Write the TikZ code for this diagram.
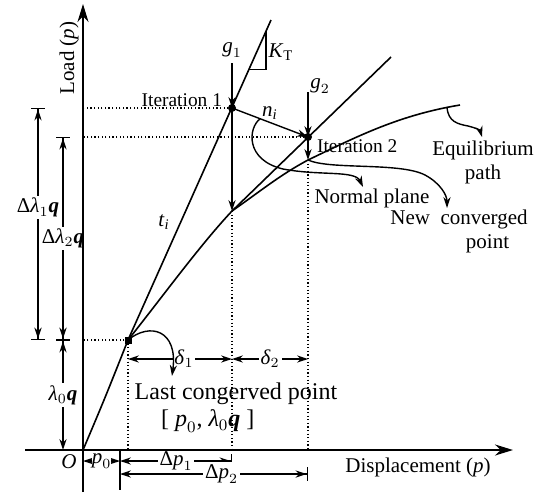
\documentclass[tikz,border=0pt]{standalone}
\usepackage{amsmath}
\usepackage{fontspec}
\setmainfont{Liberation Serif}
\usetikzlibrary{arrows.meta,positioning,calc}
\newcommand{\mv}[1]{\text{\textit{#1}}}
\newcommand{\bq}{\text{\textbf{\textit{q}}}}

\begin{document}
\begin{tikzpicture}[x=0.5pt,y=-0.5pt,font=\fontsize{10.5}{12}\selectfont,
    axisline/.style={line width=1pt,-{Stealth[length=9pt,width=5.5pt]}},
    pathline/.style={line width=0.8pt},
    guide/.style={line width=0.6pt,dash pattern=on 0.6pt off 1.2pt},
    arr/.style={line width=0.7pt,-{Stealth[length=5.5pt,width=3.6pt]}},
    dimline/.style={line width=0.7pt,{Stealth[length=5.5pt,width=3.6pt]}-{Stealth[length=5.5pt,width=3.6pt]}},
    dimbar/.style={line width=0.7pt,{Bar[width=7pt]Stealth[length=5.5pt,width=3.6pt]}-{Stealth[length=5.5pt,width=3.6pt]Bar[width=7pt]}},
    lbl/.style={fill=white,inner sep=1pt}]
  \useasboundingbox (0,0) rectangle (539,494);
  \coordinate (O) at (83,450);
  \coordinate (P0) at (128,340);
  \coordinate (I1) at (232,108);
  \coordinate (A1) at (232,211);
  \coordinate (I2) at (308,137);
  \coordinate (P2) at (308,160);
  \coordinate (E) at (460,105);
  \coordinate (T1) at (271,20);
  \coordinate (T2) at (391,57);
  \coordinate (B0) at (120,450);
  \coordinate (L1) at (38,0);
  \coordinate (L2) at (63,0);
  \coordinate (h1) at (0,461);
  \coordinate (h2) at (0,474);
  \coordinate (h3) at (0,359);

  \draw[guide] (I1) -- (I1 -| O);
  \draw[guide] (I2) -- (I2 -| O);
  \draw[guide] (P0) -- (P0 -| O);
  \draw[guide] (P0) -- (P0 |- O);
  \draw[guide] (A1) -- (A1 |- O);
  \draw[guide] (P2) -- (P2 |- O);

  \draw[pathline] (O) .. controls (105,398) .. (P0) .. controls (160,300) and (200,245) .. (A1)
    .. controls (262,190) and (280,175) .. (P2) .. controls (360,135) and (400,115) .. (E);
  \draw[pathline] (P0) -- (T1);
  \draw[pathline] (A1) -- (T2);
  \coordinate (k1) at ($(P0)!0.846!(T1)$);
  \coordinate (k2) at ($(P0)!0.965!(T1)$);
  \draw[line width=0.6pt] (k1) -| (k2);
  \node (kt) at (281,52) {$\mv{K}_{\mathrm{T}}$};
  \node (ti) at (164,222) {$\mv{t}_{\mv{i}}$};

  \coordinate (g1s) at (232,63);
  \coordinate (g2s) at (308,92);
  \draw[arr] (g1s) -- (I1);
  \draw[arr] (g2s) -- (I2);
  \node[above=-1pt of g1s] (g1) {$\mv{g}_1$};
  \node (g2) at (320,86) {$\mv{g}_2$};
  \draw[arr] (I1) -- (A1);
  \draw[arr] (I1) -- (I2);
  \draw[arr] (I2) -- (P2);
  \node (ni) at (270,113) {$\mv{n}_{\mv{i}}$};
  \fill (I1) circle[radius=2pt];
  \fill (I2) circle[radius=2pt];
  \fill ($(P0)+(-3.5,-3.5)$) rectangle ($(P0)+(3.5,3.5)$);

  \node[anchor=east,font=\fontsize{9.7}{11}\selectfont] (it1) at (229,100) {Iteration 1};
  \node[anchor=west,font=\fontsize{9.7}{11}\selectfont] (it2) at (310,146) {Iteration 2};

  \coordinate (np) at ($(I1)!0.37!(I2)$);
  \draw[arr] (np) .. controls (248,128) and (245,160) .. (283,169) .. controls (320,176) and (355,170) .. (363,187);
  \node (normal) at (372,198) {Normal plane};
  \draw[arr] (P2) .. controls (330,170) and (400,162) .. (425,175) .. controls (440,183) and (447,195) .. (447,208);
  \node[align=left] (newpt) at (459,231) {New\ \ converged\\\hspace*{3.6em}point};
  \coordinate (ep) at (447,107);
  \draw[arr] (ep) .. controls (448,122) and (458,124) .. (468,126) .. controls (476,128) and (480,130) .. (482,137);
  \node[align=center] (eqp) at (483,162) {Equilibrium\\path};
  \node[align=left,font=\fontsize{12}{13.5}\selectfont] (last) at (236,408) {Last congerved point\\\hspace*{1.1em}[ $\mv{p}_0$, $\mv{λ}_0\bq$ ]};

  \draw[{Bar[width=7pt]Stealth[length=5.5pt,width=3.6pt]}-{Stealth[length=5.5pt,width=3.6pt]Bar[width=7pt]},line width=0.7pt] (L2 |- I2) -- node[lbl] {$\text{Δ}\mv{λ}_2\bq$} (L2 |- P0);
  \draw[{Bar[width=7pt]Stealth[length=5.5pt,width=3.6pt]}-{Stealth[length=5.5pt,width=3.6pt]},line width=0.7pt] (L2 |- P0) -- node[lbl] {$\mv{λ}_0\bq$} (L2 |- O);
  \draw[dimbar] (L1 |- I1) -- node[lbl,pos=0.43] {$\text{Δ}\mv{λ}_1\bq$} (L1 |- P0);

  \draw[dimline] (P0 |- h3) -- node[lbl,inner sep=0.5pt,xshift=2pt] {$\mv{δ}_1$} (A1 |- h3);
  \draw[dimline] (A1 |- h3) -- node[lbl] {$\mv{δ}_2$} (P2 |- h3);
  \draw[arr] (P0) .. controls (150,322) and (178,330) .. (172,376);
  \draw[line width=0.7pt] (B0) -- (B0 |- 0,490);
  \draw[dimline] (O |- h1) -- node[lbl,inner sep=0pt] {$\mv{p}_0$} (B0 |- h1);
  \draw[{Stealth[length=5.5pt,width=3.6pt]}-{Stealth[length=5.5pt,width=3.6pt]Bar[width=7pt]},line width=0.7pt] (B0 |- h1) -- node[lbl] {$\text{Δ}\mv{p}_1$} (A1 |- h1);
  \draw[{Stealth[length=5.5pt,width=3.6pt]}-{Stealth[length=5.5pt,width=3.6pt]Bar[width=7pt]},line width=0.7pt] (B0 |- h2) -- node[lbl,pos=0.54] {$\text{Δ}\mv{p}_2$} (P2 |- h2);

  \draw[axisline] (25,450) -- (513,450);
  \draw[axisline] (83,492) -- (83,4);
  \node (origin) at (69,462) {$\mv{O}$};
  \node[rotate=90] (ylab) at (69,58) {Load ($\mv{p}$)};
  \node (xlab) at (418,467) {Displacement ($\mv{p}$)};
\end{tikzpicture}
\end{document}
